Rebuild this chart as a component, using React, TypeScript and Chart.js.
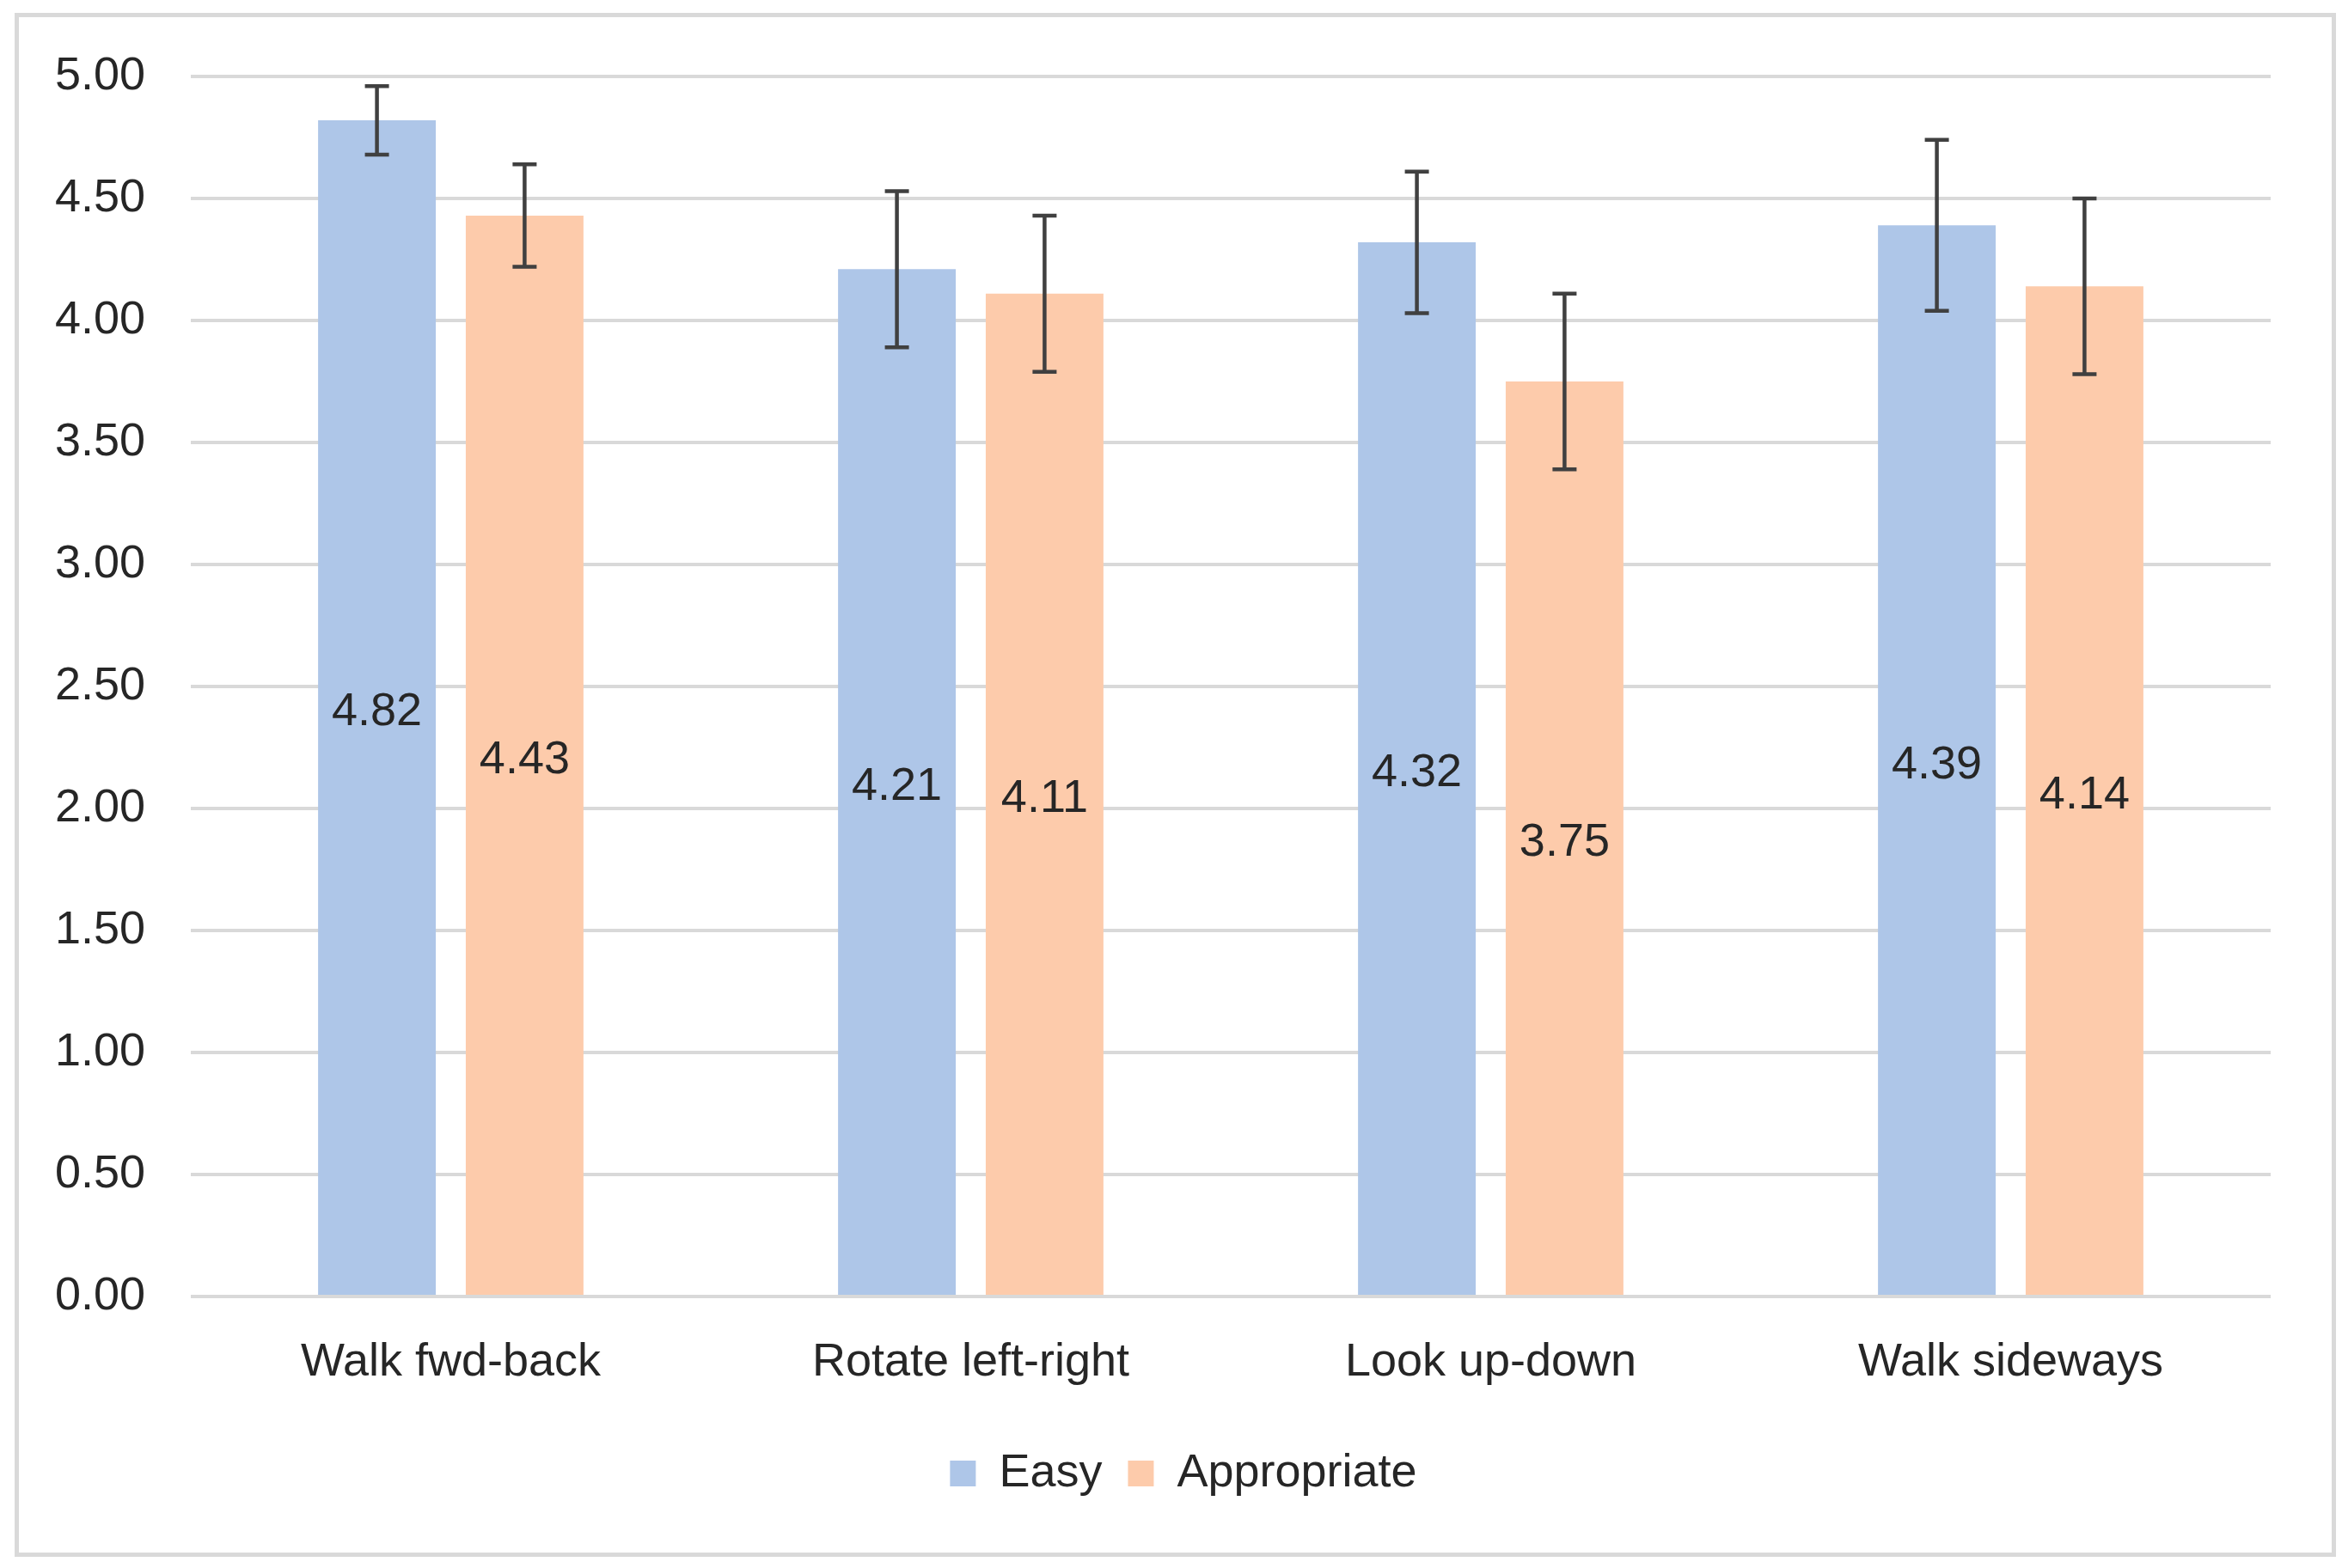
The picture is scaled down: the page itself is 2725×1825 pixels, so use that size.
import React, { useEffect, useRef } from "react";
import { Chart, registerables } from "chart.js";

Chart.register(...registerables);

const categories = ["Walk fwd-back", "Rotate left-right", "Look up-down", "Walk sideways"];
const seriesNames = ["Easy", "Appropriate"];
const easyValues = [4.82, 4.21, 4.32, 4.39];
const appropriateValues = [4.43, 4.11, 3.75, 4.14];
const easyErrors = [0.14, 0.32, 0.29, 0.35];
const appropriateErrors = [0.21, 0.32, 0.36, 0.36];
const yMin = 0;
const yMax = 5;
const yStep = 0.5;

const FONT = '"Liberation Sans", Arial, sans-serif';
const TEXT_COLOR = "#262626";

const errorAndLabelPlugin = {
  id: "errorAndLabel",
  afterDatasetsDraw(chart: any) {
    const ctx = chart.ctx;
    const yScale = chart.scales.y;
    chart.data.datasets.forEach((ds: any, di: number) => {
      const meta = chart.getDatasetMeta(di);
      meta.data.forEach((bar: any, i: number) => {
        const v = ds.data[i];
        const e = ds.errors[i];
        const x = bar.x;
        const yTop = yScale.getPixelForValue(v + e);
        const yBot = yScale.getPixelForValue(v - e);
        ctx.save();
        ctx.strokeStyle = "#404040";
        ctx.lineWidth = 4.5;
        ctx.lineCap = "butt";
        ctx.beginPath();
        ctx.moveTo(x, yTop);
        ctx.lineTo(x, yBot);
        ctx.moveTo(x - 14, yTop);
        ctx.lineTo(x + 14, yTop);
        ctx.moveTo(x - 14, yBot);
        ctx.lineTo(x + 14, yBot);
        ctx.stroke();
        ctx.font = `54px ${FONT}`;
        ctx.fillStyle = TEXT_COLOR;
        ctx.textAlign = "center";
        ctx.textBaseline = "middle";
        ctx.fillText(v.toFixed(2), x, (bar.y + bar.base) / 2 + 6);
        ctx.restore();
      });
    });
  },
};

const legendShiftPlugin = {
  id: "legendShift",
  afterLayout(chart: any) {
    const lg = chart.legend;
    if (lg) {
      lg.left += 56;
      lg.right += 56;
    }
  },
};

export default function App() {
  const canvasRef = useRef<HTMLCanvasElement | null>(null);

  useEffect(() => {
    if (!canvasRef.current) return;
    const chart = new Chart(canvasRef.current, {
      type: "bar",
      data: {
        labels: categories,
        datasets: [
          {
            label: seriesNames[0],
            data: easyValues,
            errors: easyErrors,
            backgroundColor: "#aec6e8",
            borderWidth: 0,
            categoryPercentage: 0.568,
            barPercentage: 0.797,
          } as any,
          {
            label: seriesNames[1],
            data: appropriateValues,
            errors: appropriateErrors,
            backgroundColor: "#fdcbab",
            borderWidth: 0,
            categoryPercentage: 0.568,
            barPercentage: 0.797,
          } as any,
        ],
      },
      options: {
        responsive: false,
        animation: false,
        layout: { padding: { left: 0, right: 83, top: 89, bottom: 73 } },
        plugins: {
          tooltip: { enabled: false },
          legend: {
            position: "bottom",
            labels: {
              boxWidth: 30,
              boxHeight: 30,
              padding: 30,
              color: TEXT_COLOR,
              font: { family: FONT, size: 54 },
            },
          },
        },
        scales: {
          x: {
            grid: { display: false },
            border: { display: false },
            ticks: {
              color: TEXT_COLOR,
              font: { family: FONT, size: 54 },
              padding: 37,
              maxRotation: 0,
            },
            afterFit(scale: any) {
              scale.height = 149;
            },
          },
          y: {
            min: yMin,
            max: yMax,
            grid: { color: "#d9d9d9", lineWidth: 4, drawTicks: false },
            border: { display: false },
            ticks: {
              stepSize: yStep,
              color: TEXT_COLOR,
              font: { family: FONT, size: 54 },
              padding: 53,
              callback: (v: any) => Number(v).toFixed(2),
            },
            afterFit(scale: any) {
              scale.width = 222;
            },
          },
        },
      },
      plugins: [errorAndLabelPlugin, legendShiftPlugin],
    });
    return () => chart.destroy();
  }, []);

  return (
    <div
      style={{
        position: "absolute",
        left: 0,
        top: 0,
        width: 2725,
        height: 1825,
        background: "#ffffff",
      }}
    >
      <div
        style={{
          position: "absolute",
          left: 17,
          top: 15,
          width: 2701,
          height: 1797,
          boxSizing: "border-box",
          border: "5px solid #d9d9d9",
        }}
      />
      <canvas
        ref={canvasRef}
        width={2725}
        height={1825}
        style={{ position: "absolute", left: 0, top: 0, width: 2725, height: 1825 }}
      />
    </div>
  );
}
